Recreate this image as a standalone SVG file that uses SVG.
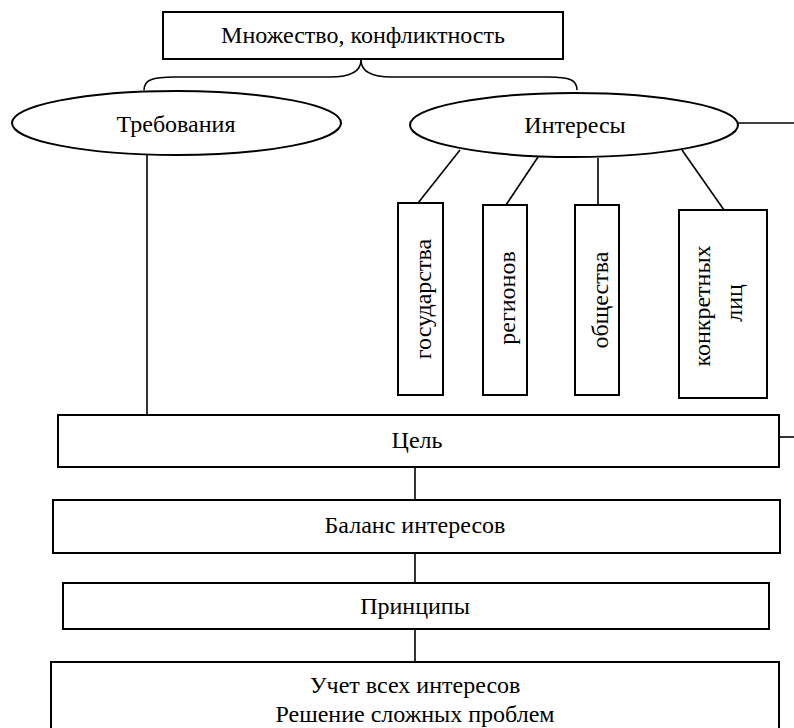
<svg xmlns="http://www.w3.org/2000/svg" width="794" height="728" viewBox="0 0 794 728">
<style>
.box{fill:#fff;stroke:#000;stroke-width:2}
.ln{fill:none;stroke:#000;stroke-width:1.6}
.t{font-family:"Liberation Serif","Times New Roman",serif;font-size:24px;fill:#000;text-anchor:middle}
</style>
<rect width="794" height="728" fill="#fff"/>
<g id="connectors">
<path class="ln" d="M144,90 C144,80 152,77 175,77 L330,77 C354,77 361,70 361,60 C361,70 368,77 392,77 L548,77 C570,77 577,80 577,90"/>
<line class="ln" x1="147" y1="155" x2="147" y2="415"/>
<line class="ln" x1="738" y1="123" x2="794" y2="123"/>
<line class="ln" x1="460" y1="150" x2="418" y2="203"/>
<line class="ln" x1="538" y1="157" x2="506" y2="205"/>
<line class="ln" x1="598" y1="158" x2="598" y2="205"/>
<line class="ln" x1="682" y1="150" x2="724" y2="210"/>
<line class="ln" x1="779" y1="437" x2="794" y2="437"/>
<line class="ln" x1="415" y1="467" x2="415" y2="500"/>
<line class="ln" x1="415" y1="553" x2="415" y2="583"/>
<line class="ln" x1="415" y1="629" x2="415" y2="662"/>
</g>
<g id="n-top"><rect class="box" x="163" y="12" width="400" height="47"/><text class="t" x="363" y="43">Множество, конфликтность</text></g>
<g id="n-treb"><ellipse class="box" cx="176.5" cy="123" rx="164.5" ry="32"/><text class="t" x="176" y="132">Требования</text></g>
<g id="n-inter"><ellipse class="box" cx="574" cy="125" rx="164" ry="32"/><text class="t" x="575" y="133">Интересы</text></g>
<g id="n-gos"><rect class="box" x="398" y="203" width="45" height="192"/><text class="t" transform="translate(431,299) rotate(-90)">государства</text></g>
<g id="n-reg"><rect class="box" x="483" y="205" width="44" height="190"/><text class="t" transform="translate(515,298) rotate(-90)">регионов</text></g>
<g id="n-obsh"><rect class="box" x="575" y="205" width="44" height="190"/><text class="t" transform="translate(608,300) rotate(-90)">общества</text></g>
<g id="n-konk"><rect class="box" x="679" y="210" width="88" height="188"/><text class="t" transform="translate(710,306) rotate(-90)">конкретных</text><text class="t" transform="translate(742,303) rotate(-90)">лиц</text></g>
<g id="n-cel"><rect class="box" x="58" y="415" width="721" height="52"/><text class="t" x="417" y="448">Цель</text></g>
<g id="n-bal"><rect class="box" x="53" y="500" width="727" height="53"/><text class="t" x="415" y="533">Баланс интересов</text></g>
<g id="n-princ"><rect class="box" x="63" y="583" width="706" height="46"/><text class="t" x="415" y="614">Принципы</text></g>
<g id="n-uchet"><rect class="box" x="51" y="662" width="728" height="80"/><text class="t" x="415" y="693">Учет всех интересов</text><text class="t" x="415" y="722">Решение сложных проблем</text></g>
</svg>
